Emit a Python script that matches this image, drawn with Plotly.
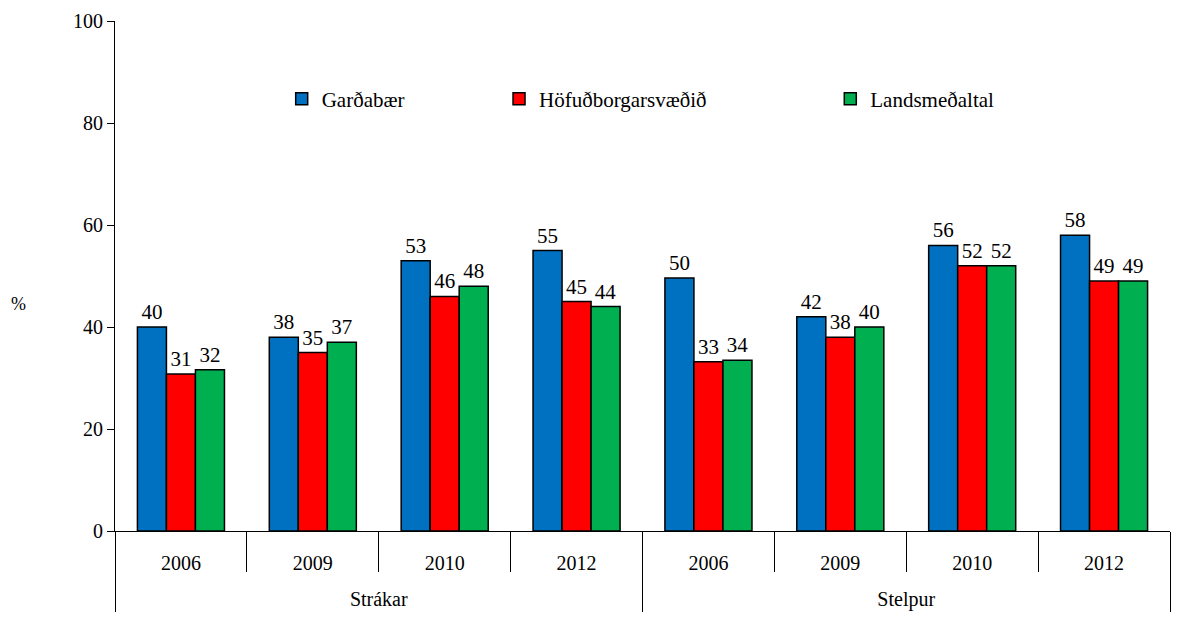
import plotly.graph_objects as go

# Gögn lesin af myndinni
hopar = ["Strákar"] * 4 + ["Stelpur"] * 4
ar = ["2006", "2009", "2010", "2012"] * 2

gardabaer = [40, 38, 53, 55, 49.6, 42, 56, 58]
hofudborg = [30.8, 35, 46, 45, 33.2, 38, 52, 49]
landsmedaltal = [31.6, 37, 48, 44, 33.5, 40, 52, 49]

serif = "Liberation Serif"

fig = go.Figure()
series = [
    ("Garðabær", gardabaer, "#0070C0", "legend"),
    ("Höfuðborgarsvæðið", hofudborg, "#FF0000", "legend2"),
    ("Landsmeðaltal", landsmedaltal, "#00B050", "legend3"),
]
# ytri flokkar færðir niður um eina línu
ytri = ["<br>" + h for h in hopar]
for name, vals, col, leg in series:
    fig.add_trace(go.Bar(
        x=[ytri, ar],
        y=vals,
        name=name,
        marker=dict(color=col, line=dict(color="black", width=1.5)),
        texttemplate="%{y:.0f}",
        textposition="outside",
        textfont=dict(family=serif, size=21, color="black"),
        cliponaxis=False,
        legend=leg,
        showlegend=True,
    ))

leg_style = dict(
    orientation="h", yanchor="middle", xanchor="left",
    font=dict(family=serif, size=21, color="black"),
    bgcolor="rgba(0,0,0,0)", itemwidth=30,
)
fig.update_layout(
    width=1179, height=626,
    margin=dict(l=107, r=17, t=13, b=103),
    plot_bgcolor="white", paper_bgcolor="white",
    showlegend=True,
    barmode="group", bargap=0.34, bargroupgap=0,
    font=dict(family=serif, size=20, color="black"),
    legend=dict(x=0.158, y=0.847, **leg_style),
    legend2=dict(x=0.364, y=0.847, **leg_style),
    legend3=dict(x=0.678, y=0.847, **leg_style),
    xaxis=dict(
        type="multicategory",
        showline=True, linecolor="black", linewidth=1,
        ticks="outside", tickson="boundaries", ticklen=40, tickcolor="black",
        showdividers=True, dividercolor="black", dividerwidth=1,
        tickfont=dict(family=serif, size=20, color="black"),
        ticklabelstandoff=14,
        showgrid=False, automargin=False,
    ),
    yaxis=dict(
        range=[0, 100], dtick=20,
        showline=True, linecolor="black", linewidth=1,
        ticks="outside", ticklen=7, tickcolor="black",
        showgrid=False, zeroline=False,
        tickfont=dict(family=serif, size=20, color="black"),
        ticklabeloverflow="allow",
        automargin=False,
    ),
    annotations=[
        dict(text="%", xref="paper", yref="paper", x=-0.091, y=0.446,
             xanchor="center", showarrow=False,
             font=dict(family=serif, size=18, color="black")),
    ],
)

fig.write_html("out.html")
